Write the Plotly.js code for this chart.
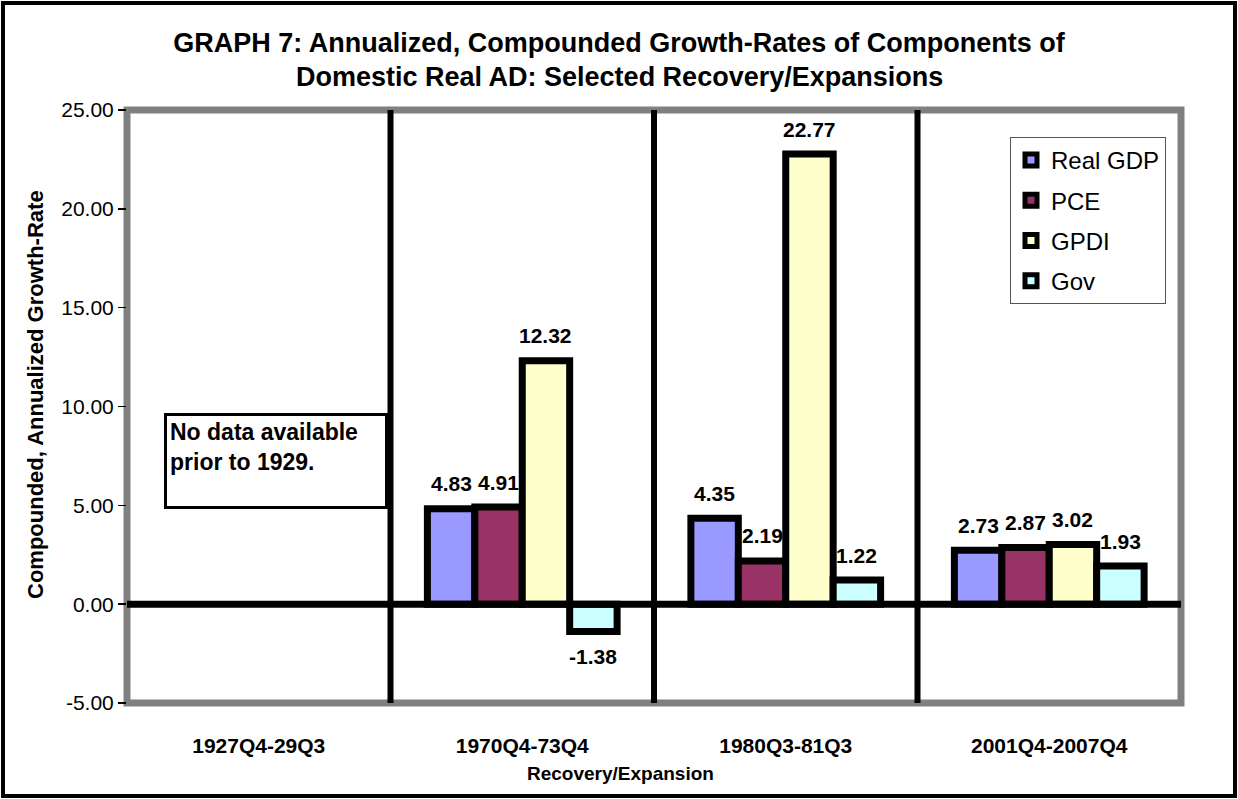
<!DOCTYPE html>
<html>
<head>
<meta charset="utf-8">
<script src="https://cdn.plot.ly/plotly-3.0.1.min.js"></script>
<style>
html,body{margin:0;padding:0;background:#fff;}
#chart{width:1238px;height:799px;}
</style>
</head>
<body>
<div id="chart"></div>
<script>
// ---- data ----
const categories = ["1927Q4-29Q3", "1970Q4-73Q4", "1980Q3-81Q3", "2001Q4-2007Q4"];
const seriesNames = ["Real GDP", "PCE", "GPDI", "Gov"];
const realGDP = [null, 4.83, 4.35, 2.73];
const pce     = [null, 4.91, 2.19, 2.87];
const gpdi    = [null, 12.32, 22.77, 3.02];
const gov     = [null, -1.38, 1.22, 1.93];
const yTickVals = [-5, 0, 5, 10, 15, 20, 25];
const yTickText = ["-5.00", "0.00", "5.00", "10.00", "15.00", "20.00", "25.00"];
const titleLine1 = "GRAPH 7: Annualized, Compounded Growth-Rates of Components of";
const titleLine2 = "Domestic Real AD: Selected Recovery/Expansions";
const noteText = "No data available<br>prior to 1929.";

// ---- style ----
const FONT = "Arial, 'Liberation Sans', sans-serif";
const colors = ["#9999FF", "#993366", "#FFFFCC", "#CCFFFF"];
const W = 1238, H = 799;
const M = {l: 127, r: 57, t: 110, b: 96};
const plotW = W - M.l - M.r;
const plotH = H - M.t - M.b;
const BARGAP = 0.28;
const TITLE_SIZE = 27;

const allSeries = [realGDP, pce, gpdi, gov];

const traces = allSeries.map((vals, i) => ({
  type: "bar",
  name: seriesNames[i],
  x: categories,
  y: vals,
  legendgroup: "g" + i,
  marker: {color: colors[i], line: {color: "#000", width: 7}},
  hoverinfo: "x+y+name"
}));

const px = v => (v - M.l) / plotW;
const py = v => (H - M.b - v) / plotH;

// value labels via annotations, positioned at the bar's category and value
const catW = plotW / categories.length;
const barW = catW * (1 - BARGAP) / allSeries.length;
const annotations = [];
allSeries.forEach((vals, i) => {
  vals.forEach((v, j) => {
    if (v === null) return;
    annotations.push({
      x: categories[j], y: v, xref: "x", yref: "y",
      text: v.toFixed(2), showarrow: false,
      xshift: (i - (allSeries.length - 1) / 2) * barW,
      yshift: v >= 0 ? 25 : -25,
      font: {family: FONT, size: 21, color: "#000", weight: "bold"}
    });
  });
});

// second title line
annotations.push({
  xref: "paper", yref: "paper", x: px(619), y: py(77),
  xanchor: "center", yanchor: "middle", showarrow: false,
  text: "<b>" + titleLine2 + "</b>",
  font: {family: FONT, size: TITLE_SIZE, color: "#000"}
});
annotations.push({
  xref: "paper", yref: "paper", x: px(275.5), y: py(461.5),
  xanchor: "center", yanchor: "middle",
  text: "<b>" + noteText + "</b>", showarrow: false,
  align: "left", valign: "top", width: 212, height: 84,
  bordercolor: "#000", borderwidth: 3, borderpad: 3, bgcolor: "#fff",
  font: {family: FONT, size: 23, color: "#000"}
});
annotations.push({
  xref: "paper", yref: "paper", x: px(35), y: py(395),
  xanchor: "center", yanchor: "middle", textangle: -90, showarrow: false,
  text: "<b>Compounded, Annualized Growth-Rate</b>",
  font: {family: FONT, size: 22, color: "#000"}
});
annotations.push({
  xref: "paper", yref: "paper", x: px(620), y: py(773),
  xanchor: "center", yanchor: "middle", showarrow: false,
  text: "<b>Recovery/Expansion</b>",
  font: {family: FONT, size: 19, color: "#000"}
});

const shapes = [
  // gray plot border
  {type: "rect", xref: "paper", yref: "paper", x0: 0, x1: 1, y0: 0, y1: 1,
   line: {color: "#808080", width: 7}, layer: "below"},
  // separators between categories
  ...[0.5, 1.5, 2.5].map(xv => ({type: "line", xref: "x", yref: "paper", x0: xv, x1: xv, y0: 0, y1: 1,
    line: {color: "#000", width: 6}, layer: "below"})),
  // zero line
  {type: "line", xref: "paper", yref: "y", x0: 0, x1: 1, y0: 0, y1: 0,
   line: {color: "#000", width: 7}, layer: "above"},
  // outer frame
  {type: "rect", xref: "paper", yref: "paper", x0: px(3), x1: px(1235), y0: py(796), y1: py(3),
   line: {color: "#000", width: 4}}
];

const layout = {
  width: W, height: H,
  margin: M,
  paper_bgcolor: "#fff", plot_bgcolor: "#fff",
  font: {family: FONT, color: "#000"},
  title: {
    text: "<b>" + titleLine1 + "</b>",
    x: 0.5, xref: "container", xanchor: "center",
    y: 1 - 43 / H, yref: "container", yanchor: "middle",
    font: {family: FONT, size: TITLE_SIZE, color: "#000"}
  },
  barmode: "group",
  bargap: BARGAP,
  bargroupgap: 0,
  xaxis: {
    type: "category", range: [-0.5, 3.5],
    showgrid: false, zeroline: false, showline: false, ticks: "",
    ticklabelstandoff: 28,
    tickfont: {family: FONT, size: 21, color: "#000", weight: "bold"}
  },
  yaxis: {
    range: [-5, 25], tickvals: yTickVals, ticktext: yTickText,
    showgrid: false, zeroline: false, showline: false,
    ticks: "outside", ticklen: 8, tickwidth: 1.5, tickcolor: "#000",
    tickfont: {family: FONT, size: 21, color: "#000"}
  },
  legend: {
    x: px(1010), y: py(137), xanchor: "left", yanchor: "top",
    bordercolor: "#555", borderwidth: 1, bgcolor: "#fff",
    font: {family: FONT, size: 24, color: "#000"},
    tracegroupgap: 6, itemwidth: 30
  },
  showlegend: true,
  annotations: annotations,
  shapes: shapes
};

Plotly.newPlot("chart", traces, layout, {displayModeBar: false, staticPlot: true});
</script>
</body>
</html>
